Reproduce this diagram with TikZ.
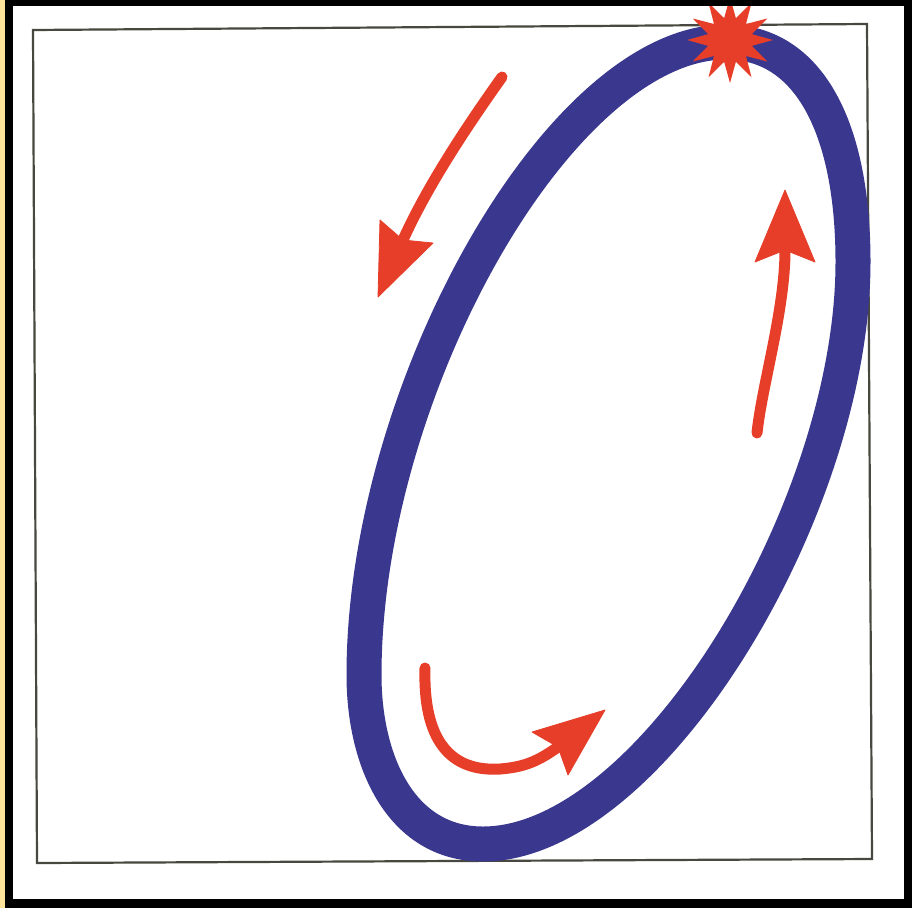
\documentclass[tikz,border=0pt]{standalone}
\usetikzlibrary{shapes.geometric}
\definecolor{ringblue}{RGB}{58,56,142}
\definecolor{arrowred}{RGB}{230,62,40}
\definecolor{framegray}{RGB}{72,72,64}
\definecolor{edgeyellow}{RGB}{255,228,155}
\begin{document}
\begin{tikzpicture}[x=1pt,y=-1pt,
  shaft/.style={draw=arrowred, line width=11pt, line cap=round},
  head/.style={fill=arrowred, draw=arrowred, line width=0.8pt, line join=round},
  ring/.style={draw=ringblue, line width=35pt},
  framebox/.style={draw=framegray, line width=2.2pt, line join=miter},
  burst/.style={star, star points=12, star point ratio=1.9, minimum size=86pt,
    inner sep=0pt, fill=arrowred, draw=none}]
\useasboundingbox (0,0) rectangle (912,908);
\fill[edgeyellow] (0,0) rectangle (5,908);
\fill[black] (5,0) rectangle (912,908);
\fill[white] (13,6) rectangle (904,899);
\begin{scope}
\clip (13,6) rectangle (904,899);
\draw[framebox] (33,30) -- (867,24) -- (872,859) -- (37,863) -- cycle;
\coordinate (rt) at (726,42);
\coordinate (rr) at (853,262);
\coordinate (rb) at (483,844);
\coordinate (rl) at (364,675);
\draw[ring] (rt) .. controls (810,42) and (853,130) .. (rr)
  .. controls (853,510) and (650,844) .. (rb)
  .. controls (400,844) and (364,760) .. (rl)
  .. controls (364,390) and (560,42) .. cycle;
\node[burst] (star) at (730,40) {};
% arrow 1
\coordinate (a1s) at (502,77);
\coordinate (a1n) at (403,240);
\draw[shaft] (a1s) .. controls (475,115) and (430,180) .. (a1n);
\fill[head] (378,297) -- (380,220) -- (403,240) -- (433,243) -- cycle;
% arrow 2
\coordinate (a2s) at (757,433);
\coordinate (a2n) at (785,250);
\draw[shaft] (a2s) .. controls (762,385) and (785,310) .. (a2n);
\fill[head] (785,190) -- (815,262) -- (785,250) -- (755,262) -- cycle;
% arrow 3
\coordinate (a3s) at (425,668);
\coordinate (a3m) at (500,769);
\coordinate (a3n) at (558,747);
\draw[shaft] (a3s) .. controls (423,740) and (450,772) .. (a3m) .. controls (525,767) and (538,761) .. (a3n);
\fill[head] (605,710) -- (568,775) -- (558,747) -- (532,732) -- cycle;
\end{scope}
\end{tikzpicture}
\end{document}
